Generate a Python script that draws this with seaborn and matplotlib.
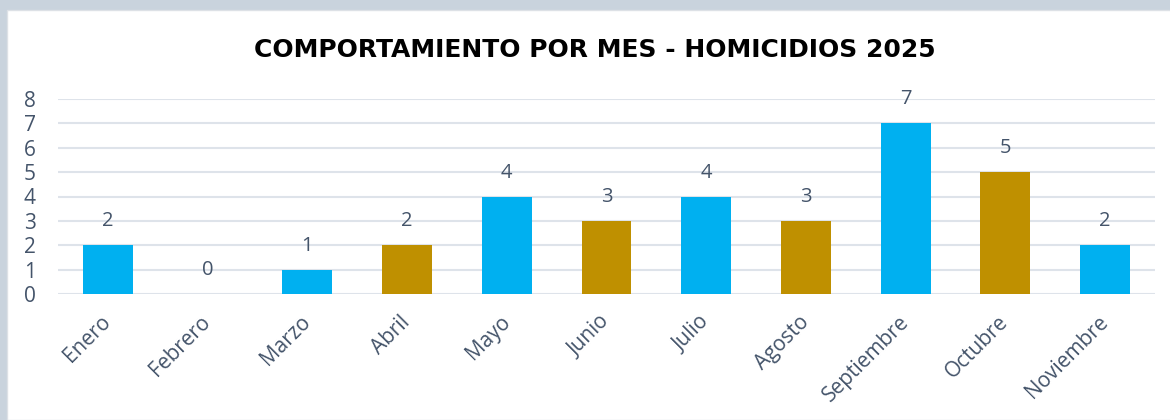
import matplotlib
matplotlib.use("Agg")
import matplotlib.pyplot as plt
import seaborn as sns
from matplotlib.patches import Rectangle

meses = ["Enero", "Febrero", "Marzo", "Abril", "Mayo", "Junio",
         "Julio", "Agosto", "Septiembre", "Octubre", "Noviembre"]
homicidios = [2, 0, 1, 2, 4, 3, 4, 3, 7, 5, 2]
colores = ["#00B0F0", "#BF9000", "#00B0F0", "#BF9000", "#00B0F0", "#BF9000",
           "#00B0F0", "#BF9000", "#00B0F0", "#BF9000", "#00B0F0"]

sns.set_style("white")
plt.rcParams["font.family"] = ["Open Sans", "DejaVu Sans"]

texto = "#44546A"

fig = plt.figure(figsize=(11.7, 4.2), dpi=100)
fig.patch.set_facecolor("#C9D3DD")
# white chart panel over the slide background
panel = Rectangle((7 / 1170, 0), 1, 1 - 10 / 420, transform=fig.transFigure,
                  facecolor="white", edgecolor="#DDE1E6", linewidth=1, zorder=-5)
fig.add_artist(panel)

ax = fig.add_axes([58 / 1170, 1 - 294 / 420, 1097 / 1170, 195 / 420])
ax.set_facecolor("none")

sns.barplot(x=meses, y=homicidios, hue=meses, palette=colores, width=0.5,
            saturation=1, linewidth=0, legend=False, ax=ax, zorder=3)

for cont in ax.containers:
    ax.bar_label(cont, padding=10, fontsize=14.5, color=texto)

ax.set_ylim(0, 8)
ax.set_xlim(-0.5, len(meses) - 0.5)
ax.set_yticks(range(0, 9))
ax.yaxis.grid(True, color="#DEE3EA", linewidth=1.5, zorder=0)
ax.set_axisbelow(True)
for s in ax.spines.values():
    s.set_visible(False)

ax.tick_params(axis="both", length=0, labelcolor=texto)
ax.tick_params(axis="y", pad=16, labelsize=15)
ax.tick_params(axis="x", pad=18, labelsize=15)
ax.set_xlabel("")
ax.set_ylabel("")
plt.setp(ax.get_xticklabels(), rotation=45, ha="right", va="center",
         rotation_mode="anchor")

fig.text(595 / 1170, 1 - 50 / 420, "COMPORTAMIENTO POR MES - HOMICIDIOS 2025",
         ha="center", va="center", fontsize=18, fontweight="bold", color="black",
         family=["DejaVu Sans"])

fig.savefig("out.png", dpi=100, facecolor=fig.get_facecolor())
